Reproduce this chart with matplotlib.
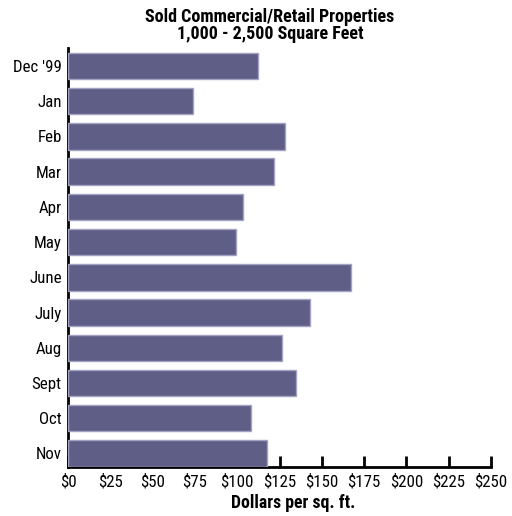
import matplotlib
matplotlib.use("Agg")
import matplotlib.pyplot as plt
import numpy as np

months = ["Dec '99", "Jan", "Feb", "Mar", "Apr", "May", "June",
          "July", "Aug", "Sept", "Oct", "Nov"]
price_per_sqft = [112.4, 73.8, 128.2, 121.7, 103.4, 99.2, 167.1,
                  143.2, 126.2, 134.5, 107.9, 117.9]
x_ticks = [0, 25, 50, 75, 100, 125, 150, 175, 200, 225, 250]
x_tick_labels = [f"${v}" for v in x_ticks]

plt.rcParams['font.family'] = ['Roboto Condensed', 'Roboto', 'DejaVu Sans']

W, H = 512, 516
fig = plt.figure(figsize=(W / 100, H / 100), dpi=100)
ax = fig.add_axes([68 / W, 1 - 467 / H, (491 - 68) / W, (467 - 48) / H])

y = np.arange(len(months))
ax.barh(y, price_per_sqft, height=0.75, color="#5f5e86",
        edgecolor="#a3a2c2", linewidth=1.0, zorder=3)

ax.set_xlim(0, 250)
ax.set_ylim(11.386, -0.51)

ax.set_xticks(x_ticks)
ax.set_xticklabels(x_tick_labels, fontsize=12.2)
ax.tick_params(axis="x", direction="in", length=8, width=2, pad=5,
               color="black")

ax.set_yticks(y)
ax.set_yticklabels(months, fontsize=12.2)
ax.tick_params(axis="y", length=0, pad=4.5)

for side in ("top", "right"):
    ax.spines[side].set_visible(False)
for side in ("left", "bottom"):
    ax.spines[side].set_linewidth(2)
    ax.spines[side].set_color("black")
    ax.spines[side].set_zorder(1)

fig.text(0.527, 1 - 8 / H, "Sold Commercial/Retail Properties\n1,000 - 2,500 Square Feet",
         ha="center", va="top", fontsize=13, fontweight="bold",
         linespacing=0.9)
fig.text(0.572, 1 - 503 / H, "Dollars per sq. ft.", ha="center", va="center",
         fontsize=12.8, fontweight="bold")

fig.savefig("out.png", dpi=100)
